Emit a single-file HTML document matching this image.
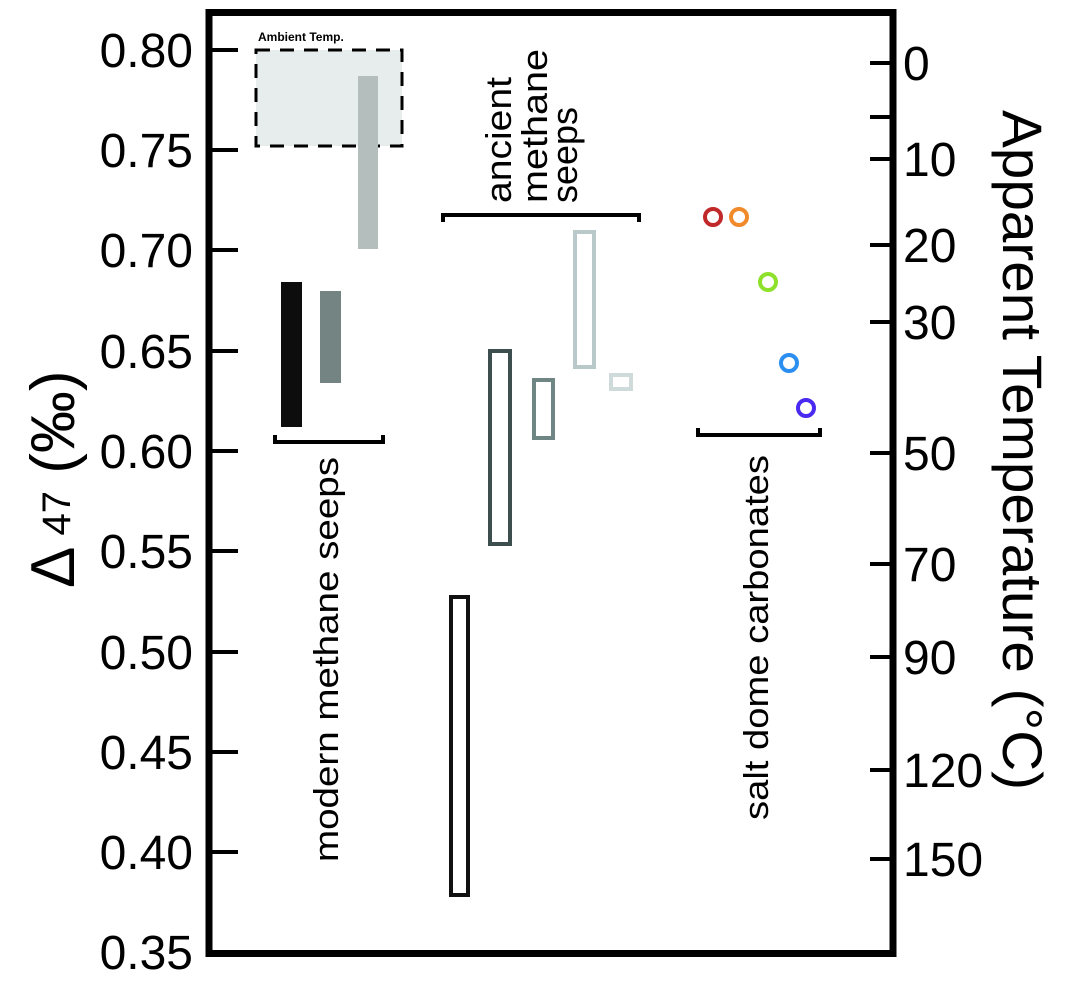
<!DOCTYPE html>
<html><head><style>html,body{margin:0;padding:0;background:#fff;}</style></head>
<body>
<svg width="1067" height="992" viewBox="0 0 1067 992" xmlns="http://www.w3.org/2000/svg" font-family="Liberation Sans, sans-serif">
<rect x="209" y="12.5" width="684" height="941" fill="none" stroke="#000" stroke-width="7"/>
<g stroke="#000" stroke-width="4">
<line x1="212" y1="50" x2="238" y2="50"/><line x1="212" y1="150" x2="238" y2="150"/>
<line x1="212" y1="250" x2="238" y2="250"/><line x1="212" y1="351" x2="238" y2="351"/>
<line x1="212" y1="451" x2="238" y2="451"/><line x1="212" y1="551" x2="238" y2="551"/>
<line x1="212" y1="652" x2="238" y2="652"/><line x1="212" y1="752" x2="238" y2="752"/>
<line x1="212" y1="852" x2="238" y2="852"/>
<line x1="870" y1="63" x2="890" y2="63"/><line x1="870" y1="117" x2="890" y2="117"/>
<line x1="870" y1="159" x2="890" y2="159"/><line x1="870" y1="245" x2="890" y2="245"/>
<line x1="870" y1="322" x2="890" y2="322"/><line x1="870" y1="453" x2="890" y2="453"/>
<line x1="870" y1="564" x2="890" y2="564"/><line x1="870" y1="657" x2="890" y2="657"/>
<line x1="870" y1="770" x2="890" y2="770"/><line x1="870" y1="859" x2="890" y2="859"/>
</g>
<g font-size="48" text-anchor="end" fill="#000">
<text x="193" y="67">0.80</text><text x="193" y="167">0.75</text><text x="193" y="267">0.70</text>
<text x="193" y="368">0.65</text><text x="193" y="468">0.60</text><text x="193" y="568">0.55</text>
<text x="193" y="669">0.50</text><text x="193" y="769">0.45</text><text x="193" y="869">0.40</text>
<text x="193" y="969">0.35</text>
</g>
<g font-size="48" fill="#000">
<text x="903" y="80">0</text><text x="903" y="176">10</text><text x="903" y="262">20</text>
<text x="903" y="339">30</text><text x="903" y="470">50</text><text x="903" y="581">70</text>
<text x="903" y="674">90</text><text x="903" y="787">120</text><text x="903" y="876">150</text>
</g>
<text transform="translate(1003,110) rotate(90)" font-size="56" textLength="680" lengthAdjust="spacingAndGlyphs">Apparent Temperature (°C)</text>
<text transform="translate(74,588) rotate(-90)" font-size="62"><tspan>Δ</tspan><tspan font-size="40" dy="-4"> 47</tspan><tspan dy="4"> (‰)</tspan></text>
<rect x="256" y="50" width="146" height="96" fill="#e7eded" stroke="#000" stroke-width="3" stroke-dasharray="14,10"/>
<text x="258" y="41" font-size="12" font-weight="bold">Ambient Temp.</text>
<rect x="358" y="76" width="20" height="173" fill="#b4bebd"/>
<rect x="281" y="282" width="21" height="145" fill="#0d0d0d"/>
<rect x="320" y="291" width="21" height="92" fill="#738483"/>
<path d="M275 435 V442 H383 V435" fill="none" stroke="#000" stroke-width="4"/>
<text transform="translate(338,862) rotate(-90)" font-size="34" textLength="405" lengthAdjust="spacingAndGlyphs">modern methane seeps</text>
<path d="M443 222 V215 H639 V222" fill="none" stroke="#000" stroke-width="4"/>
<g font-size="36">
<text transform="translate(511,203) rotate(-90)" textLength="126" lengthAdjust="spacingAndGlyphs">ancient</text>
<text transform="translate(547,203) rotate(-90)" textLength="154" lengthAdjust="spacingAndGlyphs">methane</text>
<text transform="translate(577,203) rotate(-90)" textLength="96" lengthAdjust="spacingAndGlyphs">seeps</text>
</g>
<g fill="none" stroke-width="4">
<rect x="490" y="351" width="20" height="193" stroke="#3d4e4e"/>
<rect x="534" y="380" width="19" height="58" stroke="#6f8685"/>
<rect x="575" y="232" width="19" height="135" stroke="#b9c9c9"/>
<rect x="611" y="375" width="20" height="14" stroke="#cfdada"/>
<rect x="451" y="597" width="17" height="298" stroke="#111"/>
</g>
<g fill="none" stroke-width="4">
<circle cx="713" cy="217" r="8" stroke="#c0282a"/>
<circle cx="739" cy="217" r="8" stroke="#f08a2a"/>
<circle cx="768" cy="282" r="8" stroke="#8ee02a"/>
<circle cx="789" cy="363" r="8" stroke="#2a8ff0"/>
<circle cx="806" cy="408" r="8" stroke="#4a2af0"/>
</g>
<path d="M698 428 V435 H820 V428" fill="none" stroke="#000" stroke-width="4"/>
<text transform="translate(768,820) rotate(-90)" font-size="34" textLength="365" lengthAdjust="spacingAndGlyphs">salt dome carbonates</text>
</svg>
</body></html>
